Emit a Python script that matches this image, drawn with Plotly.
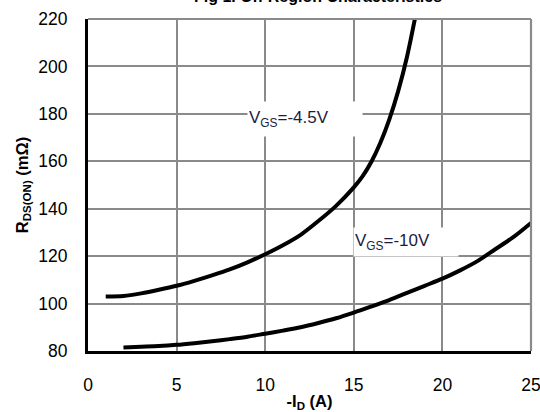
import plotly.graph_objects as go

# Data
id_45 = [1, 2, 3, 4, 5, 6, 7, 8, 9, 10, 11, 12, 13, 14, 15, 15.5, 16, 16.5, 17, 17.5, 18, 18.5]
rds_45 = [103, 103.2, 104.3, 105.8, 107.5, 109.6, 111.9, 114.4, 117.4, 120.8, 124.6, 129,
          134.8, 141.2, 149, 153.7, 159.9, 167.8, 177.6, 189.5, 204, 222]

id_10 = [2, 3, 4, 5, 6, 7, 8, 9, 10, 11, 12, 13, 14, 15, 16, 17, 18, 19, 20, 21, 22, 23, 24, 25]
rds_10 = [81.5, 81.8, 82.1, 82.6, 83.3, 84.1, 85, 86, 87.3, 88.6, 90, 91.8, 93.8, 96.2, 98.8,
          101.5, 104.5, 107.5, 110.5, 114, 118, 123, 128, 134]

x_ticks = [0, 5, 10, 15, 20, 25]
y_ticks = [80, 100, 120, 140, 160, 180, 200, 220]

FONT = "Liberation Sans, Arial, sans-serif"

fig = go.Figure()
fig.add_trace(go.Scatter(x=id_45, y=rds_45, mode="lines",
                         line=dict(color="black", width=4, shape="spline", smoothing=0.8),
                         showlegend=False))
fig.add_trace(go.Scatter(x=id_10, y=rds_10, mode="lines",
                         line=dict(color="black", width=4, shape="spline", smoothing=0.8),
                         showlegend=False))

fig.update_layout(
    width=540, height=412,
    margin=dict(l=88, r=9, t=19, b=61),
    paper_bgcolor="white", plot_bgcolor="white",
    font=dict(family=FONT, size=17.5, color="black"),
    showlegend=False,
)

fig.update_xaxes(
    range=[0, 25], tickvals=x_ticks, ticktext=[str(v) for v in x_ticks],
    showgrid=True, gridcolor="#8a8a8a", gridwidth=2.2,
    showline=True, linecolor="black", linewidth=3,
    zeroline=False, ticks="", ticklabelstandoff=16, ticklabeloverflow="allow",
    automargin=False,
    title=dict(text="<b>-I<sub>D</sub> (A)</b>", font=dict(size=16.5), standoff=2),
)
fig.update_yaxes(
    range=[80, 220], tickvals=y_ticks, ticktext=[str(v) for v in y_ticks],
    showgrid=True, gridcolor="#8a8a8a", gridwidth=2.2,
    showline=True, linecolor="black", linewidth=3,
    zeroline=False, ticks="", ticklabelstandoff=14, ticklabeloverflow="allow",
    automargin=False,
    title=dict(text="<b>R<sub>DS(ON)</sub> (mΩ)</b>", font=dict(size=16.5), standoff=6),
)

# Border lines at the top and right (grey like the grid)
fig.add_shape(type="line", xref="paper", yref="paper", x0=0, x1=1, y0=1, y1=1,
              line=dict(color="#8a8a8a", width=2.2))
fig.add_shape(type="line", xref="paper", yref="paper", x0=1, x1=1, y0=0, y1=1,
              line=dict(color="#8a8a8a", width=2.2))

lab_color = "#1c1c3c"
fig.add_annotation(x=8.95, y=177.8, xref="x", yref="y", xanchor="left", yanchor="middle",
                   text="V<sub>GS</sub>=-4.5V", showarrow=False, align="left",
                   font=dict(size=17, color=lab_color), bgcolor="white",
                   width=112, height=32, borderpad=1)
fig.add_annotation(x=14.95, y=126.0, xref="x", yref="y", xanchor="left", yanchor="middle",
                   text="V<sub>GS</sub>=-10V", showarrow=False, align="left",
                   font=dict(size=17, color=lab_color), bgcolor="white",
                   width=102, height=26, borderpad=1)

fig.add_annotation(x=0.52, y=1.0, xref="paper", yref="paper", yanchor="bottom", yshift=12,
                   text="<b>Fig 1. On-Region Characteristics</b>", showarrow=False,
                   font=dict(size=16, color="black"))

fig.write_html("out.html")
